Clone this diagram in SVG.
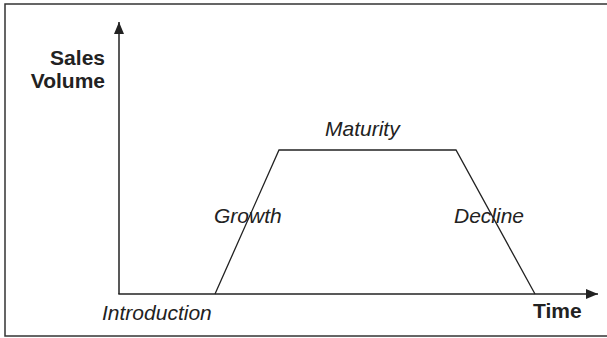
<svg xmlns="http://www.w3.org/2000/svg" width="607" height="338" viewBox="0 0 607 338">
<style>
.b{font-family:"Liberation Sans",Arial,sans-serif;font-weight:bold;font-size:21px;fill:#222}
.i{font-family:"Liberation Sans",Arial,sans-serif;font-style:italic;font-size:21px;fill:#222}
.ax{stroke:#222;stroke-width:1.5;fill:none}
.cv{stroke:#222;stroke-width:1.3;fill:none}
</style>
<defs>
<marker id="ah" viewBox="0 0 12 10" refX="12" refY="5" markerWidth="12" markerHeight="10" markerUnits="userSpaceOnUse" orient="auto">
<path d="M0,0 L12,5 L0,10 Z" fill="#222"/>
</marker>
</defs>
<rect x="5" y="4" width="610" height="332" fill="#fff" stroke="#333" stroke-width="1.5"/>
<g id="connectors">
<line class="ax" x1="119" y1="294" x2="119" y2="22" marker-end="url(#ah)"/>
<line class="ax" x1="118.3" y1="294" x2="598" y2="294" marker-end="url(#ah)"/>
<polyline class="cv" points="215,294 279,150 456,150 535,294"/>
</g>
<g id="sales-volume"><text class="b" x="105" y="64.5" text-anchor="end">Sales</text><text class="b" x="105" y="88" text-anchor="end">Volume</text></g>
<g id="time"><text class="b" x="533" y="318">Time</text></g>
<g id="introduction"><text class="i" x="102" y="320">Introduction</text></g>
<g id="growth"><text class="i" x="214" y="223">Growth</text></g>
<g id="maturity"><text class="i" x="325" y="136">Maturity</text></g>
<g id="decline"><text class="i" x="454" y="223">Decline</text></g>
</svg>
